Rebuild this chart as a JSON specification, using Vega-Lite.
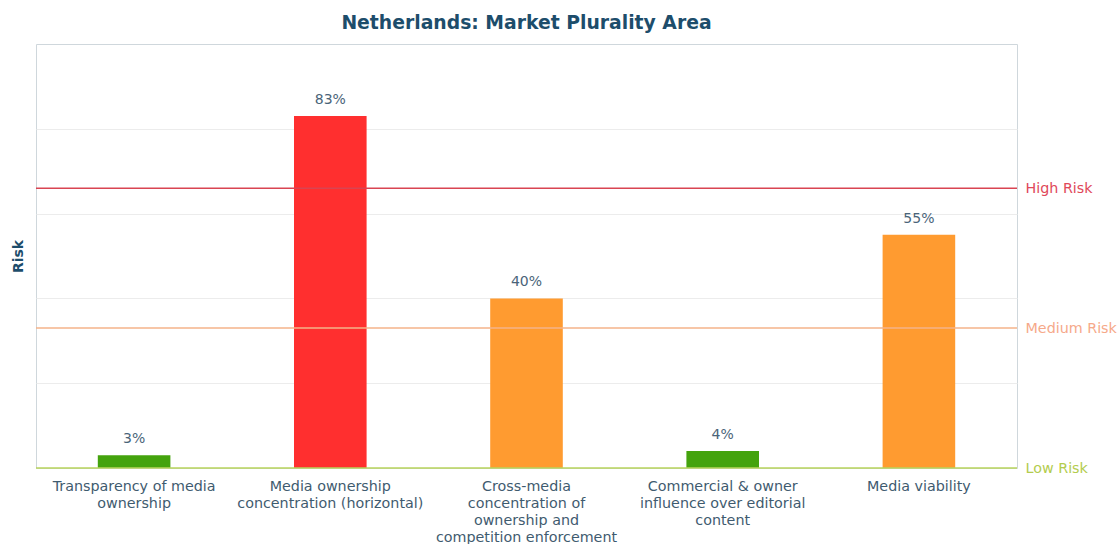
{
  "$schema": "https://vega.github.io/schema/vega-lite/v6.json",
  "width": 981,
  "height": 424,
  "autosize": {"type": "none"},
  "padding": {"left": 36, "top": 44, "right": 101, "bottom": 76},
  "background": "white",
  "title": {
    "text": "Netherlands: Market Plurality Area",
    "anchor": "middle",
    "font": "DejaVu Sans",
    "fontSize": 18.8,
    "fontWeight": "bold",
    "color": "#1d4d6b",
    "offset": 11
  },
  "config": {
    "view": {"stroke": "#cfd7dc", "strokeWidth": 1},
    "font": "DejaVu Sans"
  },
  "datasets": {
    "bars": [
      {"area": "Transparency of media\nownership", "risk": 3, "level": "Low"},
      {"area": "Media ownership\nconcentration (horizontal)", "risk": 83, "level": "High"},
      {"area": "Cross-media\nconcentration of\nownership and\ncompetition enforcement", "risk": 40, "level": "Medium"},
      {"area": "Commercial & owner\ninfluence over editorial\ncontent", "risk": 4, "level": "Low"},
      {"area": "Media viability", "risk": 55, "level": "Medium"}
    ],
    "thresholds": [
      {"threshold": 66, "name": "High Risk"},
      {"threshold": 33, "name": "Medium Risk"},
      {"threshold": 0, "name": "Low Risk"}
    ]
  },
  "layer": [
    {
      "data": {"name": "bars"},
      "mark": {"type": "bar"},
      "encoding": {
        "x": {
          "field": "area",
          "type": "nominal",
          "sort": null,
          "scale": {"paddingInner": 0.63, "paddingOuter": 0.315},
          "axis": {
            "title": null,
            "labelAngle": 0,
            "labelExpr": "split(datum.value, '\\n')",
            "labelFontSize": 14.3,
            "labelLineHeight": 17,
            "labelLimit": 400,
            "labelColor": "#3f5b6f",
            "labelPadding": 11,
            "domain": false,
            "ticks": false
          }
        },
        "y": {
          "field": "risk",
          "type": "quantitative",
          "scale": {"domain": [0, 100], "nice": false},
          "axis": {
            "title": "Risk",
            "titleFontSize": 14,
            "titleFontWeight": "bold",
            "titleColor": "#1d4d6b",
            "titlePadding": 11,
            "labels": false,
            "ticks": false,
            "domain": false,
            "values": [20, 40, 60, 80],
            "grid": true,
            "gridColor": "#ececec",
            "gridWidth": 1
          }
        },
        "color": {
          "field": "level",
          "type": "nominal",
          "scale": {"domain": ["Low", "Medium", "High"], "range": ["#44a30d", "#ff9b30", "#ff2f2f"]},
          "legend": null
        }
      }
    },
    {
      "data": {"name": "bars"},
      "transform": [{"calculate": "datum.risk + '%'", "as": "label"}],
      "mark": {"type": "text", "baseline": "bottom", "dy": -9, "fontSize": 14, "color": "#4a6479"},
      "encoding": {
        "x": {"field": "area", "type": "nominal", "sort": null},
        "y": {"field": "risk", "type": "quantitative", "axis": null},
        "text": {"field": "label", "type": "nominal"}
      }
    },
    {
      "data": {"name": "thresholds"},
      "mark": {"type": "rule", "strokeWidth": 1.5},
      "encoding": {
        "y": {
          "field": "threshold",
          "type": "quantitative",
          "axis": {
            "orient": "right",
            "title": null,
            "values": [0, 33, 66],
            "labelExpr": "datum.value == 66 ? 'High Risk' : datum.value == 33 ? 'Medium Risk' : 'Low Risk'",
            "labelFontSize": 14.3,
            "labelPadding": 8,
            "labelLimit": 200,
            "labelColor": {
              "condition": [
                {"test": "datum.value == 66", "value": "#e0485a"},
                {"test": "datum.value == 33", "value": "#f6a98a"}
              ],
              "value": "#b3cc4e"
            },
            "ticks": false,
            "domain": false,
            "grid": false
          }
        },
        "color": {
          "field": "name",
          "type": "nominal",
          "scale": {"domain": ["High Risk", "Medium Risk", "Low Risk"], "range": ["#d94452", "#f5b38a", "#b9d45c"]},
          "legend": null
        }
      }
    }
  ],
  "resolve": {"scale": {"color": "independent"}, "axis": {"y": "independent"}}
}
